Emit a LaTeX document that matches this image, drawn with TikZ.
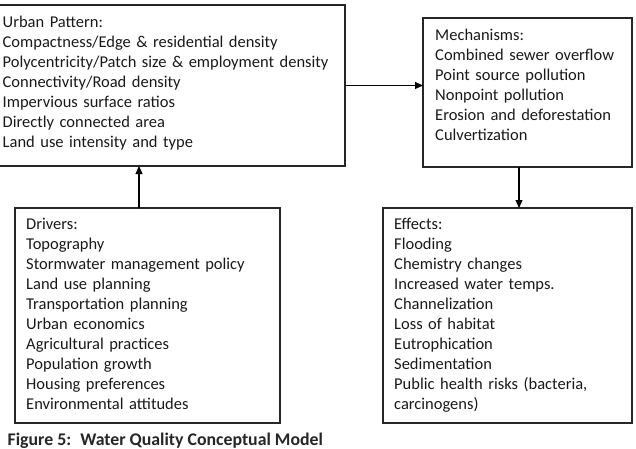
\documentclass[tikz,border=0pt]{standalone}
\usepackage{fontspec}
\setmainfont{Carlito}
\usetikzlibrary{arrows.meta}
\begin{document}
\begin{tikzpicture}[x=1pt,y=-1pt,
  box/.style={draw=black!85, line width=1.1pt, anchor=north west, inner sep=0pt, outer sep=0pt},
  txt/.style={anchor=base west, inner sep=0pt, text width=400pt, align=left, font=\fontsize{16.5}{20}\selectfont, text=black!90},
  arr/.style={draw=black, line width=1.1pt, -{Triangle[length=8pt,width=7pt]}}]
\useasboundingbox (0,0) rectangle (636,448);
\node[box, minimum width=353pt, minimum height=161pt] (urban) at (-8,5) {};
\node[box, minimum width=209pt, minimum height=149pt] (mech) at (423,18) {};
\node[box, minimum width=265pt, minimum height=215pt] (drivers) at (15,208) {};
\node[box, minimum width=249pt, minimum height=215pt] (effects) at (383,208) {};
\node[txt] (urbantxt) at (2.5,27.5) {Urban Pattern:\\Compactness/Edge \& residential density\\Polycentricity/Patch size \& employment density\\Connectivity/Road density\\Impervious surface ratios\\Directly connected area\\Land use intensity and type};
\node[txt] (mechtxt) at (435,40) {Mechanisms:\\Combined sewer overflow\\Point source pollution\\Nonpoint pollution\\Erosion and deforestation\\Culvertization};
\node[txt] (drivtxt) at (26,229) {Drivers:\\Topography\\Stormwater management policy\\Land use planning\\Transportation planning\\Urban economics\\Agricultural practices\\Population growth\\Housing preferences\\Environmental attitudes};
\node[txt] (efftxt) at (394,229) {Effects:\\Flooding\\Chemistry changes\\Increased water temps.\\Channelization\\Loss of habitat\\Eutrophication\\Sedimentation\\Public health risks (bacteria,\\carcinogens)};
\node[anchor=base west, inner sep=0pt, font=\fontsize{17.8}{20}\selectfont\bfseries, text=black!85] (cap) at (7.5,445) {Figure 5:\hspace{9pt}Water Quality Conceptual Model};
\draw[arr] (urban.east) -- (urban.east -| mech.west);
\draw[arr] ([xshift=-8.5pt]mech.south) -- ([xshift=-8.5pt]mech.south |- effects.north);
\draw[arr] ([xshift=-8.5pt]drivers.north) -- ([xshift=-8.5pt]drivers.north |- urban.south);
\end{tikzpicture}
\end{document}
